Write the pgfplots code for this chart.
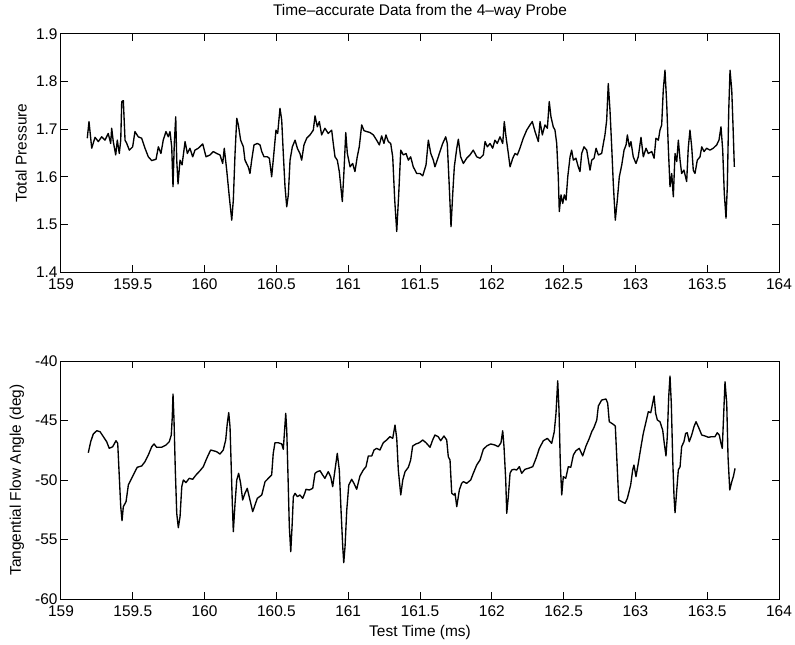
\documentclass[border=0pt]{standalone}
\usepackage{fontspec}
\setmainfont{Liberation Sans}
\usepackage{pgfplots}
\pgfplotsset{compat=1.18}

\newcommand{\figfont}{\fontsize{15.5}{18}\selectfont}

\pgfplotsset{
  probe/.style={
    scale only axis,
    width=718bp, height=238bp,
    xmin=159, xmax=164,
    xtick={159,159.5,160,160.5,161,161.5,162,162.5,163,163.5,164},
    tick align=inside,
    xtick pos=both, ytick pos=both,
    major tick length=7bp,
    axis line style={line width=1bp, black},
    every tick/.style={line width=1bp, black},
    every tick label/.append style={font=\figfont},
    title style={font=\figfont},
    /pgf/number format/assume math mode=true,
    /pgf/number format/fixed,
    xticklabel style={yshift=-3bp},
  },
  trace/.style={black, line width=1.35bp, mark=none, line join=round},
}

\begin{document}
\begin{tikzpicture}
\useasboundingbox (-61bp,-373bp) rectangle (734bp,272bp);

% upper panel: total pressure
\begin{axis}[probe,
    at={(0,0)}, anchor=south west,
    ymin=1.4, ymax=1.9,
    ytick={1.4,1.5,1.6,1.7,1.8,1.9},
    title={Time\textendash accurate Data from the 4\textendash way Probe},
    title style={at={(axis description cs:0.5,1)}, anchor=center, yshift=17bp},
    ylabel={Total Pressure},
    every axis y label/.style={at={(axis description cs:-0.0557,0.5)}, rotate=90, anchor=center, font=\figfont},
]
\addplot[trace] table {
159.183 1.681
159.195 1.716
159.214 1.660
159.237 1.683
159.260 1.674
159.283 1.684
159.306 1.677
159.329 1.691
159.346 1.670
159.353 1.702
159.364 1.674
159.381 1.646
159.392 1.677
159.406 1.649
159.416 1.677
159.423 1.758
159.434 1.760
159.446 1.677
159.458 1.670
159.476 1.656
159.499 1.663
159.515 1.695
159.538 1.684
159.562 1.681
159.585 1.660
159.608 1.642
159.632 1.634
159.662 1.637
159.678 1.663
159.696 1.649
159.712 1.677
159.731 1.695
159.747 1.684
159.759 1.695
159.771 1.663
159.780 1.579
159.789 1.670
159.799 1.726
159.806 1.635
159.815 1.585
159.829 1.635
159.843 1.625
159.864 1.674
159.880 1.649
159.898 1.660
159.917 1.642
159.933 1.656
159.956 1.660
159.987 1.669
160.010 1.642
160.038 1.646
160.061 1.653
160.084 1.649
160.107 1.646
160.126 1.628
160.137 1.660
160.154 1.614
160.172 1.558
160.189 1.509
160.200 1.551
160.212 1.649
160.224 1.723
160.235 1.709
160.251 1.677
160.270 1.663
160.281 1.635
160.304 1.621
160.316 1.607
160.328 1.635
160.344 1.667
160.367 1.670
160.386 1.667
160.398 1.653
160.414 1.642
160.437 1.642
160.451 1.639
160.467 1.600
160.478 1.635
160.497 1.698
160.509 1.691
160.525 1.744
160.537 1.719
160.548 1.649
160.560 1.579
160.572 1.537
160.583 1.562
160.595 1.635
160.611 1.663
160.630 1.677
160.646 1.660
160.664 1.649
160.676 1.635
160.692 1.667
160.711 1.681
160.734 1.688
160.757 1.698
160.769 1.728
160.785 1.705
160.799 1.716
160.815 1.688
160.838 1.702
160.861 1.691
160.885 1.698
160.896 1.670
160.908 1.642
160.924 1.635
160.938 1.611
160.959 1.548
160.971 1.614
160.983 1.693
160.994 1.649
161.013 1.621
161.031 1.628
161.047 1.611
161.063 1.642
161.077 1.663
161.094 1.709
161.110 1.697
161.129 1.695
161.152 1.693
161.175 1.688
161.198 1.677
161.217 1.667
161.233 1.686
161.249 1.670
161.263 1.688
161.279 1.674
161.296 1.670
161.310 1.642
161.324 1.551
161.338 1.485
161.352 1.565
161.366 1.656
161.384 1.646
161.403 1.649
161.419 1.635
161.435 1.642
161.453 1.621
161.477 1.607
161.500 1.607
161.519 1.602
161.542 1.625
161.558 1.677
161.575 1.649
161.593 1.635
161.604 1.621
161.620 1.635
161.639 1.653
161.658 1.670
161.679 1.684
161.690 1.670
161.704 1.579
161.716 1.495
161.728 1.565
161.739 1.621
161.756 1.660
161.767 1.679
161.783 1.642
161.802 1.628
161.825 1.639
161.848 1.646
161.871 1.656
161.895 1.642
161.918 1.639
161.941 1.646
161.953 1.674
161.969 1.663
161.988 1.670
162.006 1.660
162.022 1.677
162.038 1.670
162.057 1.684
162.076 1.670
162.087 1.716
162.099 1.684
162.115 1.649
162.127 1.621
162.146 1.639
162.162 1.649
162.178 1.646
162.196 1.660
162.219 1.681
162.243 1.698
162.266 1.709
162.282 1.716
162.301 1.695
162.324 1.674
162.336 1.716
162.352 1.688
162.370 1.709
162.387 1.702
162.400 1.758
162.412 1.726
162.428 1.705
162.440 1.698
162.452 1.670
162.463 1.600
162.470 1.527
162.482 1.562
162.494 1.544
162.505 1.562
162.517 1.551
162.529 1.600
162.545 1.642
162.556 1.656
162.568 1.635
162.586 1.639
162.602 1.621
162.614 1.611
162.626 1.649
162.642 1.663
162.661 1.656
162.684 1.614
162.696 1.635
162.712 1.639
162.726 1.660
162.742 1.646
162.765 1.649
162.777 1.670
162.788 1.688
162.800 1.719
162.811 1.796
162.823 1.740
162.835 1.663
162.846 1.586
162.860 1.509
162.874 1.551
162.888 1.600
162.905 1.625
162.921 1.656
162.935 1.667
162.944 1.688
162.958 1.663
162.969 1.674
162.985 1.642
163.004 1.628
163.020 1.642
163.039 1.683
163.055 1.642
163.074 1.660
163.090 1.649
163.114 1.653
163.130 1.639
163.143 1.681
163.160 1.677
163.171 1.698
163.183 1.709
163.194 1.782
163.206 1.824
163.218 1.754
163.229 1.663
163.241 1.579
163.253 1.607
163.264 1.558
163.276 1.649
163.288 1.632
163.299 1.677
163.311 1.635
163.322 1.607
163.338 1.614
163.357 1.590
163.368 1.660
163.380 1.698
163.392 1.663
163.403 1.614
163.415 1.607
163.431 1.635
163.450 1.642
163.462 1.663
163.478 1.653
163.496 1.660
163.519 1.656
163.542 1.660
163.566 1.667
163.582 1.677
163.596 1.705
163.608 1.656
163.619 1.565
163.631 1.513
163.640 1.579
163.650 1.740
163.659 1.824
163.671 1.782
163.680 1.705
163.689 1.621
};
\end{axis}

% lower panel: tangential flow angle
\begin{axis}[probe,
    at={(0,-327bp)}, anchor=south west,
    ymin=-60, ymax=-40,
    ytick={-60,-55,-50,-45,-40},
    xlabel={Test Time (ms)},
    every axis x label/.style={at={(axis description cs:0.5,0)}, anchor=center, yshift=-33bp, font=\figfont},
    ylabel={Tangential Flow Angle (deg)},
    every axis y label/.style={at={(axis description cs:-0.0613,0.5)}, rotate=90, anchor=center, font=\figfont},
]
\addplot[trace] table {
159.190 -47.71
159.207 -46.78
159.225 -46.13
159.249 -45.86
159.272 -45.94
159.295 -46.36
159.318 -46.78
159.336 -47.34
159.360 -47.20
159.383 -46.70
159.395 -46.92
159.406 -49.72
159.416 -52.24
159.425 -53.42
159.434 -52.24
159.453 -51.82
159.469 -50.42
159.492 -49.86
159.515 -49.30
159.531 -48.93
159.562 -48.82
159.585 -48.46
159.608 -47.90
159.632 -47.20
159.648 -46.97
159.666 -47.25
159.701 -47.25
159.731 -47.06
159.754 -46.78
159.768 -46.22
159.775 -44.68
159.780 -42.77
159.787 -44.96
159.796 -49.16
159.806 -52.80
159.817 -54.01
159.829 -53.08
159.841 -50.56
159.852 -50.00
159.870 -50.22
159.893 -49.86
159.917 -49.94
159.940 -49.58
159.968 -49.22
159.991 -48.88
160.015 -48.18
160.042 -47.48
160.061 -47.54
160.084 -47.62
160.107 -47.82
160.130 -47.48
160.147 -46.64
160.158 -45.24
160.168 -44.34
160.177 -45.52
160.184 -48.32
160.193 -51.96
160.200 -54.34
160.212 -51.96
160.224 -50.00
160.237 -49.44
160.251 -50.28
160.265 -51.68
160.281 -51.12
160.297 -50.70
160.316 -51.68
160.335 -52.66
160.351 -52.10
160.367 -51.54
160.398 -51.26
160.421 -50.14
160.444 -49.86
160.467 -49.58
160.478 -47.76
160.490 -46.87
160.513 -46.87
160.537 -46.97
160.548 -47.42
160.558 -45.66
160.565 -44.40
160.572 -45.80
160.581 -49.72
160.590 -53.92
160.600 -56.03
160.609 -53.92
160.618 -51.40
160.630 -51.12
160.646 -51.40
160.664 -51.26
160.683 -51.54
160.699 -51.07
160.706 -50.78
160.729 -50.84
160.753 -50.70
160.769 -49.44
160.785 -49.30
160.804 -49.22
160.822 -49.58
160.838 -49.86
160.861 -49.30
160.878 -49.72
160.892 -50.56
160.908 -49.16
160.924 -47.76
160.938 -49.16
160.950 -52.52
160.962 -55.60
160.969 -56.95
160.978 -55.60
160.990 -52.52
161.004 -50.42
161.024 -49.94
161.040 -50.28
161.059 -50.78
161.082 -49.66
161.105 -49.16
161.124 -48.88
161.140 -47.98
161.164 -47.98
161.180 -47.48
161.198 -47.34
161.221 -47.48
161.244 -46.87
161.268 -46.64
161.291 -46.36
161.310 -46.50
161.326 -45.38
161.338 -46.50
161.349 -49.16
161.366 -51.26
161.380 -50.00
161.396 -49.30
161.419 -48.93
161.435 -48.32
161.449 -47.14
161.472 -46.97
161.495 -46.87
161.519 -46.64
161.542 -46.87
161.570 -47.25
161.588 -46.64
161.604 -46.22
161.627 -46.36
161.644 -46.70
161.667 -46.30
161.686 -46.64
161.697 -48.04
161.709 -48.32
161.721 -51.12
161.737 -51.26
161.744 -51.12
161.756 -52.24
161.774 -50.84
161.790 -50.28
161.802 -50.14
161.825 -50.28
161.853 -50.00
161.871 -49.44
161.895 -48.74
161.918 -48.32
161.941 -47.42
161.965 -47.14
161.992 -46.97
162.022 -47.06
162.045 -47.20
162.064 -46.87
162.076 -45.86
162.085 -47.20
162.097 -50.00
162.104 -52.80
162.115 -51.40
162.127 -49.44
162.139 -49.16
162.155 -49.10
162.173 -49.16
162.192 -48.88
162.208 -49.44
162.231 -49.10
162.254 -49.02
162.285 -48.88
162.308 -48.18
162.331 -47.34
162.359 -46.70
162.387 -46.50
162.417 -46.92
162.435 -45.94
162.447 -44.40
162.459 -41.66
162.468 -44.12
162.477 -48.60
162.487 -51.26
162.498 -49.72
162.515 -49.86
162.533 -48.88
162.550 -48.93
162.568 -47.90
162.586 -47.54
162.609 -47.34
162.633 -47.98
162.656 -47.14
162.679 -46.50
162.696 -45.94
162.712 -45.57
162.731 -44.96
162.742 -43.78
162.765 -43.28
162.795 -43.19
162.807 -43.55
162.818 -45.10
162.842 -45.29
162.860 -45.46
162.870 -48.04
162.884 -51.68
162.905 -51.82
162.928 -51.96
162.944 -51.54
162.967 -50.42
162.981 -49.16
162.990 -48.74
163.004 -49.72
163.020 -48.60
163.037 -47.34
163.055 -46.08
163.074 -45.10
163.090 -44.26
163.107 -44.34
163.121 -43.50
163.130 -42.94
163.141 -44.40
163.153 -44.96
163.171 -45.10
163.190 -45.80
163.201 -46.92
163.213 -47.98
163.222 -46.36
163.232 -43.00
163.241 -41.26
163.250 -43.55
163.260 -48.32
163.269 -51.40
163.276 -52.75
163.288 -50.84
163.299 -49.16
163.311 -48.88
163.322 -47.20
163.338 -46.78
163.350 -46.08
163.361 -46.03
163.375 -46.78
163.392 -46.22
163.408 -45.52
163.422 -45.10
163.438 -45.52
163.462 -46.22
163.485 -46.30
163.508 -46.41
163.531 -46.36
163.554 -46.36
163.570 -46.03
163.584 -46.22
163.596 -46.92
163.605 -47.34
163.615 -44.40
163.624 -41.74
163.636 -43.55
163.645 -48.04
163.657 -50.84
163.671 -50.14
163.682 -49.72
163.694 -49.02
};
\end{axis}
\end{tikzpicture}
\end{document}
